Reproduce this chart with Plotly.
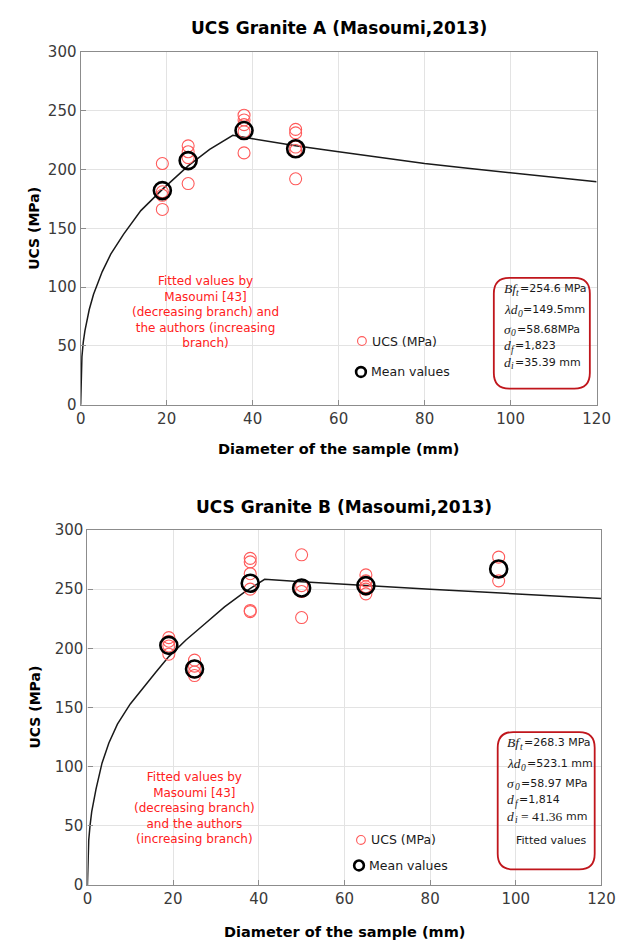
import plotly.graph_objects as go

W, H = 631, 950

# ---- Granite A ----
A_SAMPLE_D = [19, 19, 19, 19, 25, 25, 25, 25, 38, 38, 38, 38, 38, 50, 50, 50, 50, 50]
A_SAMPLE_UCS = [205, 181, 178, 166, 220, 215, 210, 188, 246, 242, 238, 232, 214,
                234, 231, 219, 216, 192]
A_MEAN_D = [19, 25, 38, 50]
A_MEAN_UCS = [182, 207.5, 233, 217.5]
A_FIT_D = [0, 0.1, 0.3, 0.6, 1, 2, 3, 5, 7, 10, 14, 19, 25, 30, 35.39,
           40, 50, 60, 70, 80, 90, 100, 110, 120]
A_FIT_UCS = [0, 28, 41, 53, 63, 81, 94, 113, 128, 145, 165, 183, 203, 217, 229,
             226, 220, 215, 210, 205, 201, 197, 193, 189.5]

# ---- Granite B ----
B_SAMPLE_D = [19, 19, 19, 19, 25, 25, 25, 25, 38, 38, 38, 38, 38, 38,
              50, 50, 50, 50, 65, 65, 65, 65, 65, 96, 96]
B_SAMPLE_UCS = [209, 206, 202, 195, 190, 185, 180, 177, 276, 273, 263, 250, 232, 231,
                279, 253, 248, 226, 262, 257, 252, 250, 246, 277, 257]
B_MEAN_D = [19, 25, 38, 50, 65, 96]
B_MEAN_UCS = [202.5, 182.5, 255, 251, 253, 267]
B_FIT_D = [0, 0.1, 0.3, 0.6, 1, 2, 3.4, 5, 7, 10, 13, 16, 19, 23, 27.5, 32, 36.5, 41.36,
           50, 60, 70, 80, 90, 100, 110, 120]
B_FIT_UCS = [0, 25, 38, 50, 62, 81, 103, 120, 136, 153, 167, 180, 193, 207, 221, 235, 247, 258.3,
             256.3, 254, 252, 250, 248, 246, 244, 242]

X_TICKS = [0, 20, 40, 60, 80, 100, 120]
Y_TICKS = [0, 50, 100, 150, 200, 250, 300]

TITLES = ["UCS Granite A (Masoumi,2013)", "UCS Granite B (Masoumi,2013)"]
X_TITLE = "Diameter of the sample (mm)"
Y_TITLE = "UCS (MPa)"
NOTE_A = "Fitted values by<br>Masoumi [43]<br>(decreasing branch) and<br>the authors (increasing<br>branch)"
NOTE_B = "Fitted values by<br>Masoumi [43]<br>(decreasing branch)<br>and the authors<br>(increasing branch)"

# fitted parameters: (symbol, subscript, value text)
PARAMS_A = [("Bf", "t", "=254.6 MPa"), ("λd", "0", "=149.5mm"), ("σ", "0", "=58.68MPa"),
            ("d", "f", "=1,823"), ("d", "i", "=35.39 mm")]
PARAMS_B = [("Bf", "t", "=268.3 MPa"), ("λd", "0", "=523.1 mm"), ("σ", "0", "=58.97 MPa"),
            ("d", "f", "=1,814"), ("d", "i", "mm")]
DI_B = "= 41.36"
FITTED_LABEL = "Fitted values"

FONT = "DejaVu Sans"
MATH = "Liberation Serif"
RED_PT = "#ff5a5a"
RED_TXT = "#ff2020"
BOX_RED = "#c0161c"
GRID = "#e3e3e3"
AXLINE = "#8c8c8c"
INK = "#1a1a1a"


def px(x):
    return x / W


def py(y):
    return 1 - y / H


fig = go.Figure()


def add_panel(sd, su, md, mu, fd, fu, xa, ya):
    fig.add_trace(go.Scatter(x=fd, y=fu, mode="lines", xaxis=xa, yaxis=ya,
                             line=dict(color=INK, width=1.5), showlegend=False,
                             hoverinfo="skip"))
    fig.add_trace(go.Scatter(x=sd, y=su, mode="markers", xaxis=xa, yaxis=ya,
                             marker=dict(symbol="circle-open", size=12,
                                         line=dict(color=RED_PT, width=1.1), color=RED_PT),
                             showlegend=False, name="UCS (MPa)"))
    fig.add_trace(go.Scatter(x=md, y=mu, mode="markers", xaxis=xa, yaxis=ya,
                             marker=dict(symbol="circle-open", size=17,
                                         line=dict(color="#000000", width=2.6), color="#000000"),
                             showlegend=False, name="Mean values"))


add_panel(A_SAMPLE_D, A_SAMPLE_UCS, A_MEAN_D, A_MEAN_UCS, A_FIT_D, A_FIT_UCS, "x", "y")
add_panel(B_SAMPLE_D, B_SAMPLE_UCS, B_MEAN_D, B_MEAN_UCS, B_FIT_D, B_FIT_UCS, "x2", "y2")

axis_common = dict(showgrid=True, gridcolor=GRID, gridwidth=1, zeroline=False,
                   showline=True, linecolor=AXLINE, linewidth=1.3, mirror=True,
                   ticks="inside", ticklen=5, tickcolor=AXLINE,
                   tickfont=dict(family=FONT, size=15, color="#3a3a3a"))

fig.update_layout(
    width=W, height=H, margin=dict(l=0, r=0, t=0, b=0),
    paper_bgcolor="white", plot_bgcolor="white", showlegend=False,
    xaxis=dict(domain=[px(78), px(610)], range=[0, 120], tickvals=X_TICKS, anchor="y",
               **axis_common),
    yaxis=dict(domain=[py(403.5), py(43.5)], range=[0, 300], tickvals=Y_TICKS, anchor="x",
               **axis_common),
    xaxis2=dict(domain=[px(85), px(615)], range=[0, 120], tickvals=X_TICKS, anchor="y2",
                **axis_common),
    yaxis2=dict(domain=[py(893), py(531)], range=[0, 300], tickvals=Y_TICKS, anchor="x2",
                **axis_common),
)

ann = []


def text(x, y, s, size=12, color="#000", bold=False, italic=False, angle=0,
         xanchor="center", family=FONT, pad=1):
    ann.append(dict(x=px(x), y=py(y), xref="paper", yref="paper", text=s, showarrow=False,
                    textangle=angle, xanchor=xanchor, yanchor="middle", borderpad=pad,
                    font=dict(family=family, size=size, color=color,
                              weight="bold" if bold else "normal",
                              style="italic" if italic else "normal")))


# titles and axis titles
text(344, 19, TITLES[0], size=17, bold=True)
text(350, 508, TITLES[1], size=17, bold=True)
text(30, 224, Y_TITLE, size=14, bold=True, angle=-90)
text(30, 712, Y_TITLE, size=14, bold=True, angle=-90)
text(344, 449, X_TITLE, size=14.5, bold=True)
text(350, 941, X_TITLE, size=14.5, bold=True)

# red notes
ann.append(dict(x=px(207), y=py(309), xref="paper", yref="paper", text=NOTE_A, showarrow=False,
                align="center", xanchor="center", yanchor="middle",
                font=dict(family=FONT, size=12, color=RED_TXT)))
ann.append(dict(x=px(195), y=py(814), xref="paper", yref="paper", text=NOTE_B, showarrow=False,
                align="center", xanchor="center", yanchor="middle",
                font=dict(family=FONT, size=12, color=RED_TXT)))

shapes = []


def legend_item(cx, cy, label, kind):
    r = 4.5 if kind == "ucs" else 5
    col = RED_PT if kind == "ucs" else "#000000"
    lw = 1.1 if kind == "ucs" else 2.6
    shapes.append(dict(type="circle", xref="paper", yref="paper",
                       x0=px(cx - r), x1=px(cx + r), y0=py(cy + r), y1=py(cy - r),
                       line=dict(color=col, width=lw)))
    text(cx + 8, cy, label, size=12.5, xanchor="left", color=INK)


legend_item(368, 338.5, "UCS (MPa)", "ucs")
legend_item(367, 370, "Mean values", "mean")
legend_item(367, 847, "UCS (MPa)", "ucs")
legend_item(365, 873, "Mean values", "mean")


def rounded_box(x0, y0, x1, y1, r):
    rx, ry = r / W, r / H
    X0, X1 = px(x0), px(x1)
    Y0, Y1 = py(y1), py(y0)  # bottom, top in paper units
    path = (f"M {X0 + rx},{Y1} L {X1 - rx},{Y1} Q {X1},{Y1} {X1},{Y1 - ry} "
            f"L {X1},{Y0 + ry} Q {X1},{Y0} {X1 - rx},{Y0} "
            f"L {X0 + rx},{Y0} Q {X0},{Y0} {X0},{Y0 + ry} "
            f"L {X0},{Y1 - ry} Q {X0},{Y1} {X0 + rx},{Y1} Z")
    shapes.append(dict(type="path", path=path, xref="paper", yref="paper",
                       line=dict(color=BOX_RED, width=1.8), fillcolor="rgba(255,255,255,0)"))


# pixel widths of the italic symbols and of their subscripts (serif, 13.5 px / 9.5 px)
SYM_W = {"Bf": 12.5, "λd": 14, "σ": 7.5, "d": 7}
SUB_W = {"t": 3, "0": 5, "f": 3.5, "i": 3}


def param_line(x, y, sym, sub, value, mid=""):
    text(x, y, sym, size=13.5, italic=True, xanchor="left", family=MATH, color=INK, pad=0)
    xs = x + SYM_W[sym] + 0.5
    text(xs, y + 4, sub, size=9.5, italic=True, xanchor="left", family=MATH, color=INK, pad=0)
    xv = xs + SUB_W[sub] + 1
    if mid:
        text(xv + 3, y, mid, size=13.5, xanchor="left", family=MATH, color=INK, pad=0)
        xv += 49
    text(xv, y, value, size=11, xanchor="left", color=INK, pad=0)


rounded_box(504, 274, 603, 387, 16)
for yy, (sym, sub, val) in zip([285, 306.5, 326.5, 343.5, 360], PARAMS_A):
    param_line(513, yy, sym, sub, val)

rounded_box(508, 737, 608, 877, 16)
rows_b = zip([748, 769.5, 789.5, 806, 823], PARAMS_B)
for i, (yy, (sym, sub, val)) in enumerate(rows_b):
    param_line(517, yy, sym, sub, val, mid=DI_B if i == 4 else "")
text(525, 848, FITTED_LABEL, size=11, xanchor="left", color=INK)

fig.update_layout(annotations=ann, shapes=shapes)
fig.write_html("out.html")
